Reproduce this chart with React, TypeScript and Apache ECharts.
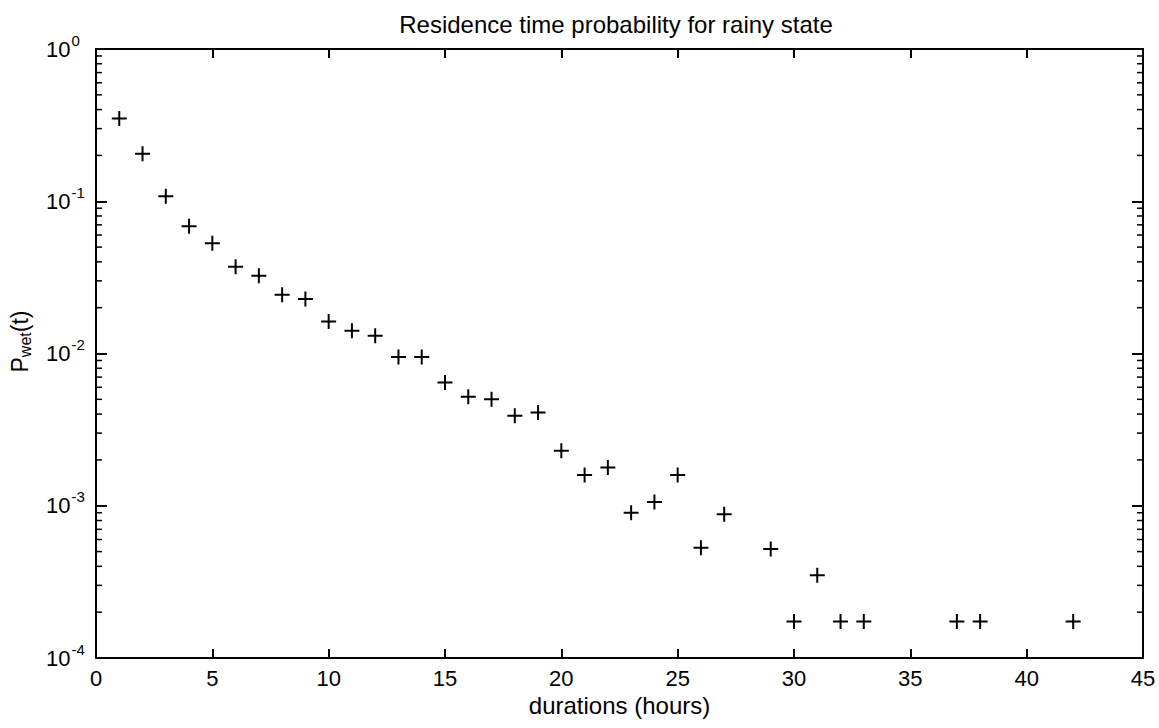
import React, { useEffect, useRef } from "react";
import * as echarts from "echarts";

const TITLE = "Residence time probability for rainy state";
const X_LABEL = "durations (hours)";

const durations = [1, 2, 3, 4, 5, 6, 7, 8, 9, 10, 11, 12, 13, 14, 15, 16, 17, 18, 19, 20, 21, 22, 23, 24, 25, 26, 27, 29, 30, 31, 32, 33, 37, 38, 42];
const probabilities = [
  0.35, 0.205, 0.108, 0.0685, 0.053, 0.0372, 0.0324, 0.0243, 0.0228, 0.0162,
  0.0141, 0.0131, 0.0095, 0.0095, 0.00645, 0.0052, 0.005, 0.0039, 0.0041, 0.0023,
  0.00159, 0.00178, 0.0009, 0.00106, 0.00159, 0.00053, 0.00088, 0.00052, 0.000174, 0.00035,
  0.000174, 0.000174, 0.000174, 0.000174, 0.000174,
];

const X_MIN = 0;
const X_MAX = 45;
const X_STEP = 5;
const Y_MIN = 1e-4;
const Y_MAX = 1;
const minorYTicks: number[] = [];
for (const decade of [1e-4, 1e-3, 1e-2, 1e-1]) {
  for (const m of [2, 3, 4, 5, 6, 7, 8, 9]) minorYTicks.push(+(m * decade).toPrecision(3));
}

const FONT = "'Liberation Sans', Arial, Helvetica, sans-serif";
const PLUS = "path://M6.5,0h2v6.5h6.5v2h-6.5v6.5h-2v-6.5h-6.5v-2h6.5z";

export default function App() {
  const ref = useRef<HTMLDivElement>(null);
  useEffect(() => {
    if (!ref.current) return;
    const chart = echarts.init(ref.current, undefined, { renderer: "svg" });
    const axisLine = { show: true, onZero: false, lineStyle: { color: "#000", width: 2 } };
    chart.setOption({
      animation: false,
      backgroundColor: "#fff",
      textStyle: { fontFamily: FONT, color: "#000" },
      title: {
        text: TITLE,
        left: 616,
        top: 12,
        padding: 0,
        textAlign: "center",
        textStyle: { fontFamily: FONT, fontSize: 24, fontWeight: "normal", color: "#000" },
      },
      grid: { left: 88, right: 16, top: 49, bottom: 70, containLabel: false },
      xAxis: [
        {
          type: "value",
          min: X_MIN,
          max: X_MAX,
          interval: X_STEP,
          position: "bottom",
          name: X_LABEL,
          nameLocation: "middle",
          nameGap: 31,
          nameTextStyle: { fontFamily: FONT, fontSize: 24, color: "#000" },
          axisLine,
          axisTick: { show: true, inside: true, length: 9, lineStyle: { color: "#000", width: 2 } },
          axisLabel: { show: true, margin: 9, fontFamily: FONT, fontSize: 22, color: "#000", showMinLabel: true, showMaxLabel: true },
          splitLine: { show: false },
        },
        {
          type: "value",
          min: X_MIN,
          max: X_MAX,
          interval: X_STEP,
          position: "top",
          axisLine,
          axisTick: { show: true, inside: true, length: 9, lineStyle: { color: "#000", width: 2 } },
          axisLabel: { show: false },
          splitLine: { show: false },
        },
      ],
      yAxis: [
        {
          type: "log",
          logBase: 10,
          min: Y_MIN,
          max: Y_MAX,
          position: "left",
          name: "{p|P}{sub|wet}{p|(t)}",
          nameLocation: "middle",
          nameRotate: 90,
          nameGap: 63,
          nameTextStyle: {
            fontFamily: FONT,
            color: "#000",
            padding: [0, 0, 0, 24],
            rich: {
              p: { fontFamily: FONT, fontSize: 23, color: "#000" },
              sub: { fontFamily: FONT, fontSize: 16, color: "#000", padding: [11, 0, 0, 0] },
            },
          },
          axisLine,
          axisTick: { show: true, inside: true, length: 11, lineStyle: { color: "#000", width: 2 } },
          axisLabel: {
            show: true,
            align: "left",
            margin: 50,
            formatter: (v: number) => `{b|10}{s|${Math.round(Math.log10(v))}}`,
            rich: {
              b: { fontFamily: FONT, fontSize: 22, color: "#000" },
              s: { fontFamily: FONT, fontSize: 15, color: "#000", padding: [0, 0, 18, 1] },
            },
          },
          splitLine: { show: false },
        },
        {
          type: "log",
          logBase: 10,
          min: Y_MIN,
          max: Y_MAX,
          position: "right",
          axisLine,
          axisTick: { show: true, inside: true, length: 11, lineStyle: { color: "#000", width: 2 } },
          axisLabel: { show: false },
          splitLine: { show: false },
        },
      ],
      series: [
        {
          type: "custom",
          xAxisIndex: 0,
          yAxisIndex: 0,
          silent: true,
          clip: false,
          data: minorYTicks.map((v) => [X_MIN, v]),
          renderItem: (_params: any, api: any) => {
            const v = api.value(1);
            const l = api.coord([X_MIN, v]);
            const r = api.coord([X_MAX, v]);
            const style = { stroke: "#000", lineWidth: 1.5 };
            return {
              type: "group",
              children: [
                { type: "line", shape: { x1: l[0], y1: l[1], x2: l[0] + 6, y2: l[1] }, style },
                { type: "line", shape: { x1: r[0] - 6, y1: r[1], x2: r[0], y2: r[1] }, style },
              ],
            };
          },
        },
        {
          type: "scatter",
          xAxisIndex: 0,
          yAxisIndex: 0,
          symbol: PLUS,
          symbolSize: 15,
          itemStyle: { color: "#000", opacity: 1 },
          data: durations.map((d, i) => [d, probabilities[i]]),
        },
      ],
    });
    return () => chart.dispose();
  }, []);
  return (
    <div
      ref={ref}
      style={{ position: "fixed", left: 0, top: 0, width: 1159, height: 728, background: "#fff" }}
    />
  );
}
